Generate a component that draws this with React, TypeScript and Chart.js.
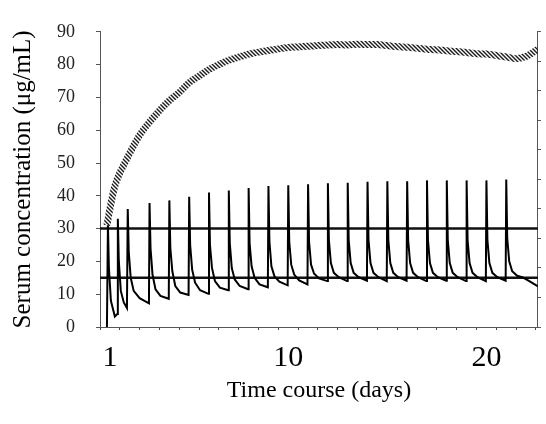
import React, { useEffect, useRef } from "react";
import { Chart, registerables } from "chart.js";

Chart.register(...registerables);

// ---- data ----
const xMin = 0.5;
const xMax = 22.6;
const xTickLabels = [1, 10, 20];
const yMax = 90;
const yStep = 10;
const thresholdHigh = 30;
const thresholdLow = 15;

// sustained (gray, hatched) serum concentration, [day, µg/mL]
const sustainedSeries: [number, number][] = [
  [0.85, 31], [1.0, 36], [1.25, 43], [1.5, 47], [1.75, 50], [2.0, 53], [2.5, 58.5],
  [3.0, 62.5], [3.5, 66], [4.0, 69], [4.5, 71.5], [5.0, 74.5], [5.5, 76.5], [6.0, 78.5],
  [6.5, 80], [7.0, 81.3], [7.5, 82.3], [8.0, 83.2], [8.5, 83.8], [9.0, 84.3], [9.5, 84.8],
  [10.0, 85.2], [10.5, 85.4], [11.0, 85.6], [11.5, 85.8], [12.0, 86], [12.5, 86.1],
  [13.0, 86], [13.5, 86.2], [14.0, 86.1], [14.5, 86.1], [15.0, 85.8], [15.5, 85.5],
  [16.0, 85.3], [16.5, 85], [17.0, 84.7], [17.5, 84.5], [18.0, 84.2], [18.5, 84],
  [19.0, 83.7], [19.5, 83.3], [20.0, 83.2], [20.5, 82.8], [21.0, 82.3], [21.5, 81.8],
  [22.0, 82.5], [22.3, 83.5], [22.6, 84.7],
];

// daily bolus (black) serum concentration, [day, µg/mL]
const bolusSeries: [number, number][] = [
  [0.85, 0], [0.9, 31], [0.95, 18], [1.05, 8], [1.25, 3.2],
  [1.38, 4], [1.4, 33], [1.45, 20], [1.55, 11], [1.7, 7.5], [1.86, 5.8],
  [1.9, 36], [1.95, 23], [2.05, 15], [2.2, 11], [2.5, 8.8], [2.97, 7.2],
  [3.0, 37.8], [3.05, 24], [3.15, 16], [3.3, 11.5], [3.55, 9.5], [3.97, 8.6],
  [4.0, 38.6], [4.05, 24], [4.15, 17], [4.3, 12.5], [4.55, 10.5], [4.97, 9.8],
  [5.0, 39.7], [5.05, 25], [5.15, 17.5], [5.3, 13.5], [5.55, 11.2], [5.97, 10.1],
  [6.0, 41], [6.05, 25], [6.15, 18], [6.3, 14], [6.55, 12], [6.97, 11.2],
  [7.0, 41.6], [7.05, 25.5], [7.15, 18], [7.3, 14.5], [7.55, 12.5], [7.97, 11.5],
  [8.0, 42.4], [8.05, 25.5], [8.15, 18.5], [8.3, 15], [8.55, 13], [8.97, 12.1],
  [9.0, 43], [9.05, 26], [9.15, 18.5], [9.3, 15.5], [9.55, 13.8], [9.97, 12.7],
  [10.0, 43.2], [10.05, 26], [10.15, 19], [10.3, 16], [10.55, 14.2], [10.97, 13.0],
  [11.0, 43.5], [11.05, 26], [11.15, 19], [11.3, 16.3], [11.55, 14.8], [11.97, 14.0],
  [12.0, 43.8], [12.05, 26.5], [12.15, 19.5], [12.3, 16.5], [12.55, 15.2], [12.97, 14.0],
  [13.0, 44], [13.05, 26.5], [13.15, 19.5], [13.3, 16.5], [13.55, 15.2], [13.97, 14.1],
  [14.0, 44.3], [14.05, 26.5], [14.15, 19.5], [14.3, 16.5], [14.55, 15.2], [14.97, 14.0],
  [15.0, 44.4], [15.05, 26.5], [15.15, 19.5], [15.3, 16.5], [15.55, 15.2], [15.97, 14.1],
  [16.0, 44.4], [16.05, 26.5], [16.15, 19.5], [16.3, 16.5], [16.55, 15.2], [16.97, 14.0],
  [17.0, 44.7], [17.05, 26.5], [17.15, 19.5], [17.3, 16.5], [17.55, 15.2], [17.97, 14.1],
  [18.0, 44.7], [18.05, 26.5], [18.15, 19.5], [18.3, 16.5], [18.55, 15.2], [18.97, 14.0],
  [19.0, 44.7], [19.05, 26.5], [19.15, 19.5], [19.3, 16.5], [19.55, 15.2], [19.97, 14.0],
  [20.0, 44.7], [20.05, 26.5], [20.15, 19.5], [20.3, 16.5], [20.55, 15.2], [20.97, 14.1],
  [21.0, 45], [21.05, 27], [21.15, 20], [21.3, 17], [21.55, 15.6], [21.8, 15.2],
  [22.1, 14.2], [22.35, 13.3], [22.6, 12.4],
];

const FONT = "'Liberation Serif', 'DejaVu Serif', serif";

function makeHatch(): CanvasPattern | string {
  const c = document.createElement("canvas");
  c.width = 4;
  c.height = 4;
  const g = c.getContext("2d");
  if (!g) return "#888";
  g.strokeStyle = "#1a1a1a";
  g.lineWidth = 1.4;
  g.beginPath();
  g.moveTo(-1, -1);
  g.lineTo(5, 5);
  g.moveTo(-1, 3);
  g.lineTo(1, 5);
  g.moveTo(3, -1);
  g.lineTo(5, 1);
  g.stroke();
  const p = g.createPattern(c, "repeat");
  return p || "#888";
}

export default function App() {
  const ref = useRef<HTMLCanvasElement | null>(null);

  useEffect(() => {
    if (!ref.current) return;
    const hatch = makeHatch();
    const xTickPositions: number[] = [];
    for (let v = 0.5; v <= 22.5 + 1e-9; v += 0.5) xTickPositions.push(v);

    const chart = new Chart(ref.current, {
      type: "line",
      data: {
        datasets: [
          {
            label: "bolus",
            data: bolusSeries.map(([x, y]) => ({ x, y })),
            borderColor: "#000",
            borderWidth: 2,
            pointRadius: 0,
            tension: 0,
            order: 0,
          },
          {
            label: "high",
            data: [{ x: xMin, y: thresholdHigh }, { x: xMax, y: thresholdHigh }],
            borderColor: "#111",
            borderWidth: 2.5,
            pointRadius: 0,
            order: 1,
          },
          {
            label: "low",
            data: [{ x: xMin, y: thresholdLow }, { x: xMax, y: thresholdLow }],
            borderColor: "#111",
            borderWidth: 2.5,
            pointRadius: 0,
            order: 1,
          },
          {
            label: "sustained",
            data: sustainedSeries.map(([x, y]) => ({ x, y })),
            borderColor: hatch as any,
            borderWidth: 7,
            pointRadius: 0,
            tension: 0.3,
            order: 2,
          },
        ],
      },
      options: {
        animation: false,
        responsive: false,
        events: [],
        layout: { padding: { top: 15, left: 0, right: 0, bottom: 0 } },
        plugins: { legend: { display: false }, tooltip: { enabled: false } },
        scales: {
          x: {
            type: "linear",
            position: "bottom",
            min: xMin,
            max: xMax,
            afterBuildTicks: (s: any) => {
              s.ticks = xTickPositions.map((v) => ({ value: v }));
            },
            afterFit: (s: any) => {
              s.height = 97;
            },
            ticks: {
              autoSkip: false,
              maxRotation: 0,
              padding: 10,
              color: "#000",
              font: { family: FONT, size: 30 },
              callback: (v: any) => (xTickLabels.includes(Number(v)) ? String(v) : ""),
            },
            grid: {
              drawOnChartArea: false,
              tickLength: 3,
              tickColor: (ctx: any) =>
                ctx.tick && Math.abs(ctx.tick.value % 1) > 0.01 ? "#444" : "rgba(0,0,0,0)",
            },
            border: { display: true, color: "#555", width: 1, dash: [1, 2] },
            title: {
              display: true,
              text: "Time course (days)",
              color: "#000",
              font: { family: FONT, size: 24 },
              padding: { top: 0, bottom: 19 },
            },
          },
          y: {
            type: "linear",
            position: "left",
            min: 0,
            max: yMax,
            afterFit: (s: any) => {
              s.width = 100;
            },
            ticks: {
              stepSize: yStep,
              padding: 21,
              color: "#222",
              font: { family: FONT, size: 18 },
            },
            grid: { drawOnChartArea: false, tickLength: 4, tickColor: "#555" },
            border: { display: true, color: "#555", width: 1, dash: [1, 2] },
            title: {
              display: true,
              text: "Serum concentration (μg/mL)",
              color: "#000",
              font: { family: FONT, size: 25 },
              padding: { top: 8, bottom: 0 },
            },
          },
          yRight: {
            type: "linear",
            position: "right",
            min: 0,
            max: 100,
            afterFit: (s: any) => {
              s.width = 6;
            },
            ticks: { display: false, stepSize: 10 },
            grid: { drawOnChartArea: false, tickLength: 3, tickColor: "#555" },
            border: { display: true, color: "#555", width: 1, dash: [1, 2] },
          },
        },
      },
    } as any);

    return () => chart.destroy();
  }, []);

  return (
    <div style={{ position: "fixed", left: 0, top: 0, width: 546, height: 424, background: "#fff" }}>
      <canvas ref={ref} width={546} height={424} style={{ display: "block" }} />
    </div>
  );
}
